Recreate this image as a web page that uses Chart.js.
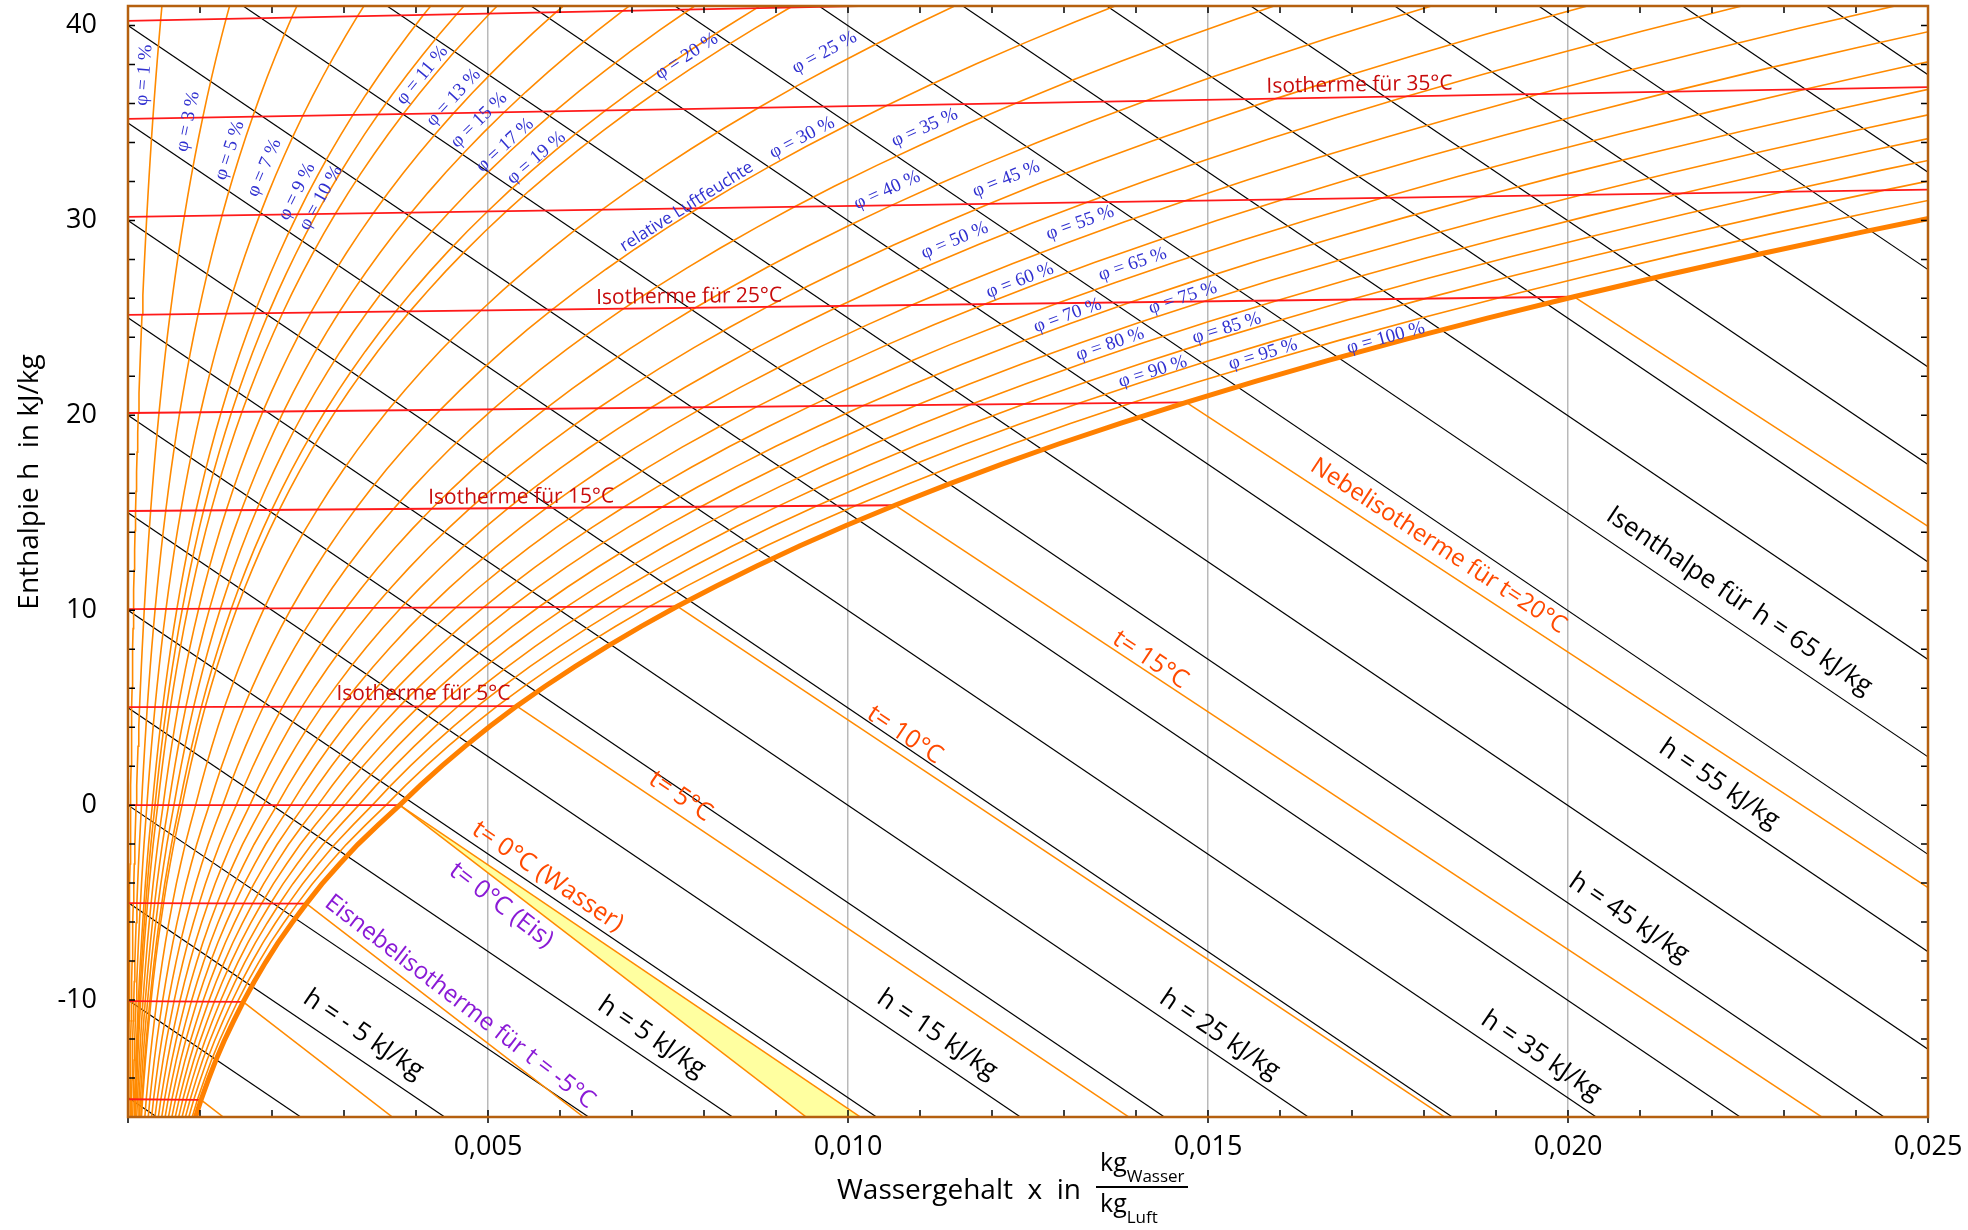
<!DOCTYPE html>
<html>
<head>
<meta charset="utf-8">
<script src="https://cdn.jsdelivr.net/npm/chart.js@4.4.1/dist/chart.umd.min.js"></script>
<style>
  html, body { margin: 0; padding: 0; background: #fff; }
  #wrap { width: 1968px; height: 1230px; }
</style>
</head>
<body>
<div id="wrap"><canvas id="hx" width="1968" height="1230"></canvas></div>
<script>
// Saettigungsdampfdruck (Pa), unter 0 °C ueber Eis
const tempC = [-17, -16, -15, -14, -13, -12, -11, -10, -9, -8, -7, -6, -5, -4, -3, -2, -1,
  0, 1, 2, 3, 4, 5, 6, 7, 8, 9, 10, 11, 12, 13, 14, 15, 16, 17, 18, 19, 20,
  21, 22, 23, 24, 25, 26, 27, 28, 29, 30, 31, 32, 33, 34, 35, 36, 37, 38, 39, 40, 41, 42];
const pSat = [137, 151, 165, 181, 198, 217, 238, 260, 284, 310, 338, 369, 402, 437, 476, 517, 563,
  611, 657, 706, 758, 813, 872, 935, 1002, 1073, 1148, 1228, 1313, 1403, 1498, 1599, 1706, 1819, 1938, 2064, 2198, 2339,
  2488, 2645, 2810, 2985, 3169, 3363, 3567, 3782, 4008, 4246, 4495, 4758, 5034, 5323, 5627, 5945, 6280, 6630, 6997, 7381, 7784, 8205];

// Kurvenscharen
const phiValues = [1, 3, 5, 7, 9, 10, 11, 13, 15, 17, 19, 20, 25, 30, 35, 40, 45, 50, 55, 60, 65, 70, 75, 80, 85, 90, 95];
const isoTemps = [-15, -10, -5, 0, 5, 10, 15, 20, 25, 30, 35, 40];
const enthalpies = [-15, -10, -5, 0, 5, 10, 15, 20, 25, 30, 35, 40, 45, 50, 55, 60, 65, 70, 75, 80, 85, 90, 95, 100];
const fogWaterTemps = [0, 5, 10, 15, 20, 25];
const fogIceTemps = [-15, -10, -5, 0];

// Achsenbeschriftung
const xTickLabels = ['0,005', '0,010', '0,015', '0,020', '0,025'];
const yTickLabels = [-10, 0, 10, 20, 30, 40];

// Beschriftungen: [Wert, x, y]
const phiLabelPos = [[1, 0.000224, 37.45], [3, 0.000833, 35.08], [5, 0.001414, 33.59], [7, 0.001894, 32.70],
  [9, 0.002347, 31.48], [10, 0.002678, 31.15], [11, 0.004087, 37.45], [13, 0.004522, 36.30],
  [15, 0.004876, 35.14], [17, 0.005236, 33.86], [19, 0.005671, 33.21], [20, 0.007759, 38.42],
  [25, 0.009674, 38.61], [30, 0.009361, 34.24], [35, 0.011065, 34.75], [40, 0.010543, 31.54],
  [45, 0.012197, 32.12], [50, 0.011483, 28.97], [55, 0.013224, 29.87], [60, 0.012389, 26.91],
  [65, 0.013954, 27.75], [70, 0.013050, 25.11], [75, 0.014650, 26.02], [80, 0.013642, 23.64],
  [85, 0.015260, 24.47], [90, 0.014233, 22.23], [95, 0.015764, 23.12], [100, 0.017469, 23.96]];
const hLabelPos = [[-5, 0.003269, -11.77, 'h = - 5 kJ/kg'], [5, 0.007272, -11.90, 'h = 5 kJ/kg'],
  [15, 0.011239, -11.77, 'h = 15 kJ/kg'], [25, 0.015162, -11.77, 'h = 25 kJ/kg'],
  [35, 0.019628, -12.86, 'h = 35 kJ/kg'], [45, 0.020846, -5.79, 'h = 45 kJ/kg'],
  [55, 0.022099, 1.08, 'h = 55 kJ/kg'], [65, 0.022378, 10.47, 'Isenthalpe für h = 65 kJ/kg']];
const isoLabelPos = [[35, 0.017104, 36.94], [25, 0.007794, 26.08], [15, 0.005461, 15.80], [5, 0.004104, 5.71]];
const fogLabelPos = [['w20', 0.018200, 13.29, 'Nebelisotherme für t=20°C', '#ff4a00'],
  ['w15', 0.014198, 7.45, 't= 15°C', '#ff4a00'], ['w10', 0.010787, 3.59, 't= 10°C', '#ff4a00'],
  ['w5', 0.007672, 0.44, 't= 5°C', '#ff4a00'], ['w0', 0.005828, -3.67, 't= 0°C (Wasser)', '#ff4a00'],
  ['i0', 0.005183, -5.15, 't= 0°C (Eis)', '#8a1ad6'],
  ['i-5', 0.004610, -10.10, 'Eisnebelisotherme für t = -5°C', '#8a1ad6']];

const P_AIR = 101325;
function moistX(phi, ps) { const pv = phi / 100 * ps; return 0.622 * pv / (P_AIR - pv); }
// Ordinate des schiefwinkligen Diagramms: h - 2501*x
function chartY(t, x) { return 1.006 * t + 1.86 * t * x; }
function psOf(t) { return pSat[tempC.indexOf(t)]; }

const curves = {};
function phiCurve(phi) {
  return tempC.map(t => { const x = moistX(phi, psOf(t)); return { x: x, y: chartY(t, x) }; });
}
[...phiValues, 100].forEach(p => { curves['phi' + p] = phiCurve(p); });

function satPoint(t) { const x = moistX(100, psOf(t)); return { x: x, y: chartY(t, x) }; }
function fogLine(t, ice) {
  const s = satPoint(t);
  const slope = (ice ? -333.5 + 2.05 * t : 4.19 * t) - 2501;
  return [s, { x: 0.03, y: s.y + slope * (0.03 - s.x) }];
}
fogWaterTemps.forEach(t => { curves['w' + t] = fogLine(t, false); });
fogIceTemps.forEach(t => { curves['i' + t] = fogLine(t, true); });
isoTemps.forEach(t => { const s = satPoint(t); curves['t' + t] = [{ x: 0, y: chartY(t, 0) }, s]; });
enthalpies.forEach(h => { curves['h' + h] = [{ x: 0, y: h }, { x: 0.03, y: h - 2501 * 0.03 }]; });

function line(data, color, width, order, extra) {
  return Object.assign({ data: data, showLine: true, borderColor: color, borderWidth: width,
    pointRadius: 0, fill: false, tension: 0, order: order, clip: 0 }, extra || {});
}

const s0 = satPoint(0);
const wedge = [s0, { x: s0.x + (s0.y + 17) / 2501, y: -17 }, { x: s0.x + (s0.y + 17) / 2834.5, y: -17 }, s0];

const datasets = [];
datasets.push(line(wedge, 'rgba(0,0,0,0)', 0, 6, { fill: 'shape', backgroundColor: '#ffffa0' }));
enthalpies.forEach(h => datasets.push(line(curves['h' + h], '#000000', 1.2, 5)));
phiValues.forEach(p => datasets.push(line(curves['phi' + p], '#ff8a00', 1.6, 4)));
fogWaterTemps.forEach(t => datasets.push(line(curves['w' + t], '#ff8a00', 1.5, 3)));
fogIceTemps.forEach(t => datasets.push(line(curves['i' + t], '#ff8a00', 1.5, 3)));
isoTemps.forEach(t => datasets.push(line(curves['t' + t], '#ff1a1a', 1.8, 2)));
datasets.push(line(curves.phi100, '#ff8000', 5, 1));

function angleNear(pts, px, py) {
  let best = Infinity, ang = 0;
  for (let i = 0; i < pts.length - 1; i++) {
    const a = pts[i], b = pts[i + 1];
    const dx = b.x - a.x, dy = b.y - a.y;
    const len2 = dx * dx + dy * dy || 1;
    let u = ((px - a.x) * dx + (py - a.y) * dy) / len2;
    u = Math.max(0, Math.min(1, u));
    const d = (px - a.x - u * dx) ** 2 + (py - a.y - u * dy) ** 2;
    if (d < best) { best = d; ang = Math.atan2(dy, dx); }
  }
  return ang;
}

function drawText(ctx, text, px, py, angle, font, color) {
  ctx.save();
  ctx.translate(px, py);
  ctx.rotate(angle);
  ctx.font = font;
  ctx.fillStyle = color;
  ctx.textAlign = 'center';
  ctx.textBaseline = 'middle';
  ctx.fillText(text, 0, 0);
  ctx.restore();
}

const decor = {
  id: 'decor',
  afterDatasetsDraw(chart) {
    const ctx = chart.ctx, xs = chart.scales.x, ys = chart.scales.y, area = chart.chartArea;
    const toPx = pts => pts.map(p => ({ x: xs.getPixelForValue(p.x), y: ys.getPixelForValue(p.y) }));
    const place = (key, x, y, text, font, color) => {
      const px = xs.getPixelForValue(x), py = ys.getPixelForValue(y);
      drawText(ctx, text, px, py, angleNear(toPx(curves[key]), px, py), font, color);
    };
    phiLabelPos.forEach(([p, x, y]) => place('phi' + p, x, y, 'φ = ' + p + ' %', '19px "Liberation Serif", serif', '#3030d0'));
    place('phi30', 0.007760, 30.70, 'relative Luftfeuchte', '17px "Open Sans", sans-serif', '#3030d0');
    hLabelPos.forEach(([h, x, y, text]) => place('h' + h, x, y, text, '26px "Open Sans", sans-serif', '#000'));
    isoLabelPos.forEach(([t, x, y]) => place('t' + t, x, y, 'Isotherme für ' + t + '°C', '21px "Open Sans", sans-serif', '#c80c0c'));
    fogLabelPos.forEach(([key, x, y, text, color]) => {
      const size = text.length > 20 ? 24 : 25;
      place(key, x, y, text, size + 'px "Open Sans", sans-serif', color);
    });

    // Rahmen und innenliegende Teilstriche
    ctx.save();
    ctx.strokeStyle = '#000';
    ctx.lineWidth = 1.5;
    ctx.beginPath();
    xs.ticks.forEach(tk => {
      const px = xs.getPixelForValue(tk.value);
      ctx.moveTo(px, area.bottom); ctx.lineTo(px, area.bottom - 7);
      ctx.moveTo(px, area.top); ctx.lineTo(px, area.top + 7);
      if (Math.round(tk.value * 1000) % 5 === 0) { ctx.moveTo(px, area.bottom); ctx.lineTo(px, area.bottom + 6); }
    });
    ys.ticks.forEach(tk => {
      const py = ys.getPixelForValue(tk.value);
      ctx.moveTo(area.left, py); ctx.lineTo(area.left + 7, py);
      ctx.moveTo(area.right, py); ctx.lineTo(area.right - 7, py);
    });
    ctx.stroke();
    ctx.strokeStyle = '#b5600f';
    ctx.lineWidth = 2.5;
    ctx.strokeRect(area.left, area.top, area.right - area.left, area.bottom - area.top);
    ctx.restore();

    // Achsentitel
    ctx.save();
    ctx.fillStyle = '#000';
    ctx.textBaseline = 'alphabetic';
    ctx.font = '28px "Open Sans", sans-serif';
    ctx.textAlign = 'left';
    ctx.fillText('Wassergehalt  x  in', 837, 1199);
    ctx.font = '25px "Open Sans", sans-serif';
    ctx.fillText('kg', 1100, 1171);
    ctx.fillText('kg', 1100, 1212);
    const kw = ctx.measureText('kg').width;
    ctx.font = '17px "Open Sans", sans-serif';
    ctx.fillText('Wasser', 1100 + kw, 1182);
    ctx.fillText('Luft', 1100 + kw, 1223);
    ctx.fillRect(1096, 1186, 92, 2);
    ctx.translate(30, 482);
    ctx.rotate(-Math.PI / 2);
    ctx.textAlign = 'center';
    ctx.textBaseline = 'middle';
    ctx.font = '28px "Open Sans", sans-serif';
    ctx.fillText('Enthalpie h  in kJ/kg', 0, 0);
    ctx.restore();
  }
};

new Chart(document.getElementById('hx'), {
  type: 'scatter',
  data: { datasets: datasets },
  plugins: [decor],
  options: {
    responsive: false,
    devicePixelRatio: 1,
    animation: false,
    events: [],
    layout: { padding: { left: 0, right: 40, top: 6, bottom: 0 } },
    plugins: { legend: { display: false }, tooltip: { enabled: false } },
    scales: {
      x: {
        type: 'linear', min: 0, max: 0.025,
        afterFit: s => { s.height = 113; s.paddingLeft = 0; s.paddingRight = 0; },
        border: { display: false },
        grid: {
          drawTicks: false, lineWidth: 1.5,
          color: c => (c.tick && Math.round(c.tick.value * 1000) % 5 === 0 && c.tick.value > 0.0001 && c.tick.value < 0.0249) ? '#b9b9b9' : 'rgba(0,0,0,0)'
        },
        ticks: {
          stepSize: 0.001, autoSkip: false, maxRotation: 0, padding: 14, color: '#000',
          font: { family: '"Open Sans", sans-serif', size: 27 },
          callback: v => { const k = Math.round(v * 1000); return (k > 0 && k % 5 === 0) ? xTickLabels[k / 5 - 1] : ''; }
        }
      },
      y: {
        type: 'linear', min: -16, max: 41,
        afterFit: s => { s.width = 128; s.paddingTop = 0; s.paddingBottom = 0; },
        border: { display: false },
        grid: { display: false, drawTicks: false },
        ticks: {
          stepSize: 2, includeBounds: false, autoSkip: false, padding: 31, color: '#000',
          font: { family: '"Open Sans", sans-serif', size: 27 },
          callback: v => yTickLabels.includes(v) ? String(v) : ''
        }
      }
    }
  }
});
</script>
</body>
</html>
